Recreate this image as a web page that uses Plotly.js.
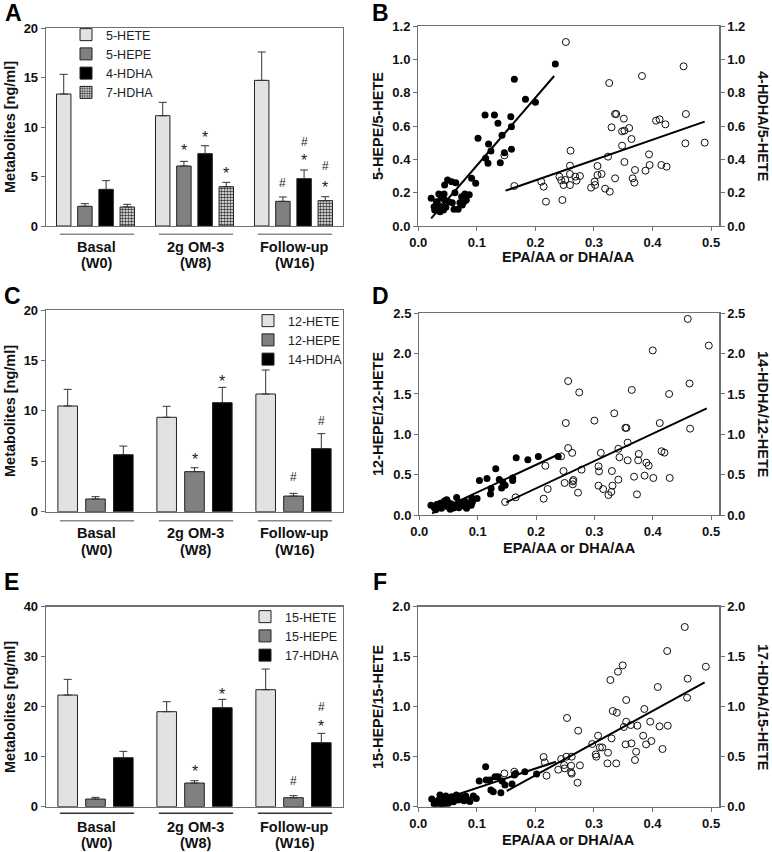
<!DOCTYPE html>
<html>
<head>
<meta charset="utf-8">
<script src="https://cdn.plot.ly/plotly-3.0.1.min.js"></script>
<style>body{margin:0;background:#fff}</style>
</head>
<body>
<div id="plotArea" style="width:772px;height:852px"></div>
<script>
var groups = ["Basal", "2g OM-3", "Follow-up"];
var weeks = ["(W0)", "(W8)", "(W16)"];
var groupIdx = [0, 1, 2];
var zeros = [0, 0, 0];

// A: 5-LOX products
var namesA = ["5-HETE", "5-HEPE", "4-HDHA", "7-HDHA"];
var hete5 = [13.33, 11.14, 14.71];
var hete5Err = [1.99, 1.35, 2.87];
var hepe5 = [1.99, 6.06, 2.49];
var hepe5Err = [0.27, 0.47, 0.44];
var hdha4 = [3.70, 7.31, 4.78];
var hdha4Err = [0.88, 0.80, 0.88];
var hdha7 = [1.92, 3.97, 2.56];
var hdha7Err = [0.27, 0.44, 0.40];
// [group, bar, label, y]
var marksA = [[1, 1, "*", 8.0], [1, 2, "*", 9.3], [1, 3, "*", 5.7],
              [2, 1, "#", 4.3], [2, 2, "#", 8.5], [2, 2, "*", 7.0],
              [2, 3, "#", 6.1], [2, 3, "*", 4.3]];

// C: 12-LOX products
var namesC = ["12-HETE", "12-HEPE", "14-HDHA"];
var hete12 = [10.48, 9.36, 11.67];
var hete12Err = [1.65, 1.09, 2.38];
var hepe12 = [1.26, 3.97, 1.55];
var hepe12Err = [0.23, 0.39, 0.27];
var hdha14 = [5.65, 10.81, 6.25];
var hdha14Err = [0.86, 1.52, 1.49];
var marksC = [[1, 1, "*", 5.6], [1, 2, "*", 13.3], [2, 1, "#", 3.4], [2, 2, "#", 9.0]];

// E: 15-LOX products
var namesE = ["15-HETE", "15-HEPE", "17-HDHA"];
var hete15 = [22.33, 19.0, 23.4];
var hete15Err = [3.14, 2.0, 4.13];
var hepe15 = [1.53, 4.73, 1.8];
var hepe15Err = [0.34, 0.47, 0.4];
var hdha17 = [9.8, 19.8, 12.8];
var hdha17Err = [1.27, 1.67, 1.87];
var marksE = [[1, 1, "*", 7.9], [1, 2, "*", 23.3], [2, 1, "#", 5.2], [2, 2, "#", 19.9], [2, 2, "*", 16.9]];

// B: ratios vs EPA/AA (filled) and DHA/AA (open)
var epaB = [0.022,0.234,0.164,0.183,0.200,0.114,0.130,0.136,0.158,0.159,0.143,0.102,0.120,0.124,0.147,0.159,0.115,0.119,0.140,0.091,0.098,0.050,0.057,0.064,0.045,0.0625,0.0795,0.087,0.035,0.044,0.039,0.045,0.052,0.074,0.082,0.078,0.058,0.071,0.031,0.027,0.034,0.040,0.047,0.028,0.037,0.043,0.061,0.068,0.075,0.031];
var hepeRatioB = [0.166,0.972,0.880,0.760,0.742,0.666,0.666,0.616,0.656,0.596,0.544,0.526,0.492,0.450,0.440,0.460,0.406,0.376,0.380,0.286,0.256,0.276,0.266,0.260,0.246,0.200,0.192,0.188,0.192,0.192,0.166,0.156,0.146,0.176,0.156,0.146,0.140,0.140,0.146,0.116,0.126,0.116,0.112,0.096,0.086,0.096,0.100,0.100,0.126,0.106];
var dhaB = [0.252,0.326,0.382,0.453,0.336,0.338,0.351,0.330,0.348,0.352,0.360,0.364,0.348,0.352,0.324,0.406,0.412,0.422,0.457,0.456,0.489,0.394,0.395,0.388,0.415,0.424,0.370,0.366,0.369,0.336,0.306,0.306,0.313,0.301,0.302,0.295,0.319,0.327,0.260,0.259,0.259,0.259,0.268,0.270,0.276,0.241,0.244,0.248,0.251,0.210,0.214,0.218,0.246,0.164,0.147];
var hdhaRatioB = [1.104,0.858,0.900,0.958,0.672,0.672,0.644,0.592,0.568,0.572,0.588,0.522,0.482,0.384,0.416,0.632,0.640,0.610,0.672,0.496,0.500,0.430,0.366,0.332,0.366,0.356,0.336,0.286,0.260,0.286,0.360,0.306,0.312,0.266,0.246,0.230,0.224,0.206,0.452,0.362,0.312,0.246,0.296,0.272,0.300,0.296,0.274,0.246,0.276,0.266,0.236,0.146,0.156,0.240,0.424];
var fitEpaBx = [0.022, 0.232];
var fitEpaBy = [0.046, 0.900];
var fitDhaBx = [0.149, 0.489];
var fitDhaBy = [0.212, 0.626];

// D
var epaD = [0.020,0.026,0.030,0.034,0.038,0.043,0.045,0.049,0.050,0.055,0.056,0.060,0.064,0.064,0.068,0.072,0.076,0.079,0.081,0.084,0.089,0.038,0.036,0.028,0.099,0.103,0.116,0.123,0.122,0.131,0.137,0.141,0.147,0.143,0.160,0.160,0.166,0.186,0.204,0.238,0.091,0.090,0.047,0.070,0.053,0.034,0.080];
var hepeRatioD = [0.120,0.087,0.129,0.095,0.137,0.174,0.129,0.100,0.154,0.137,0.083,0.091,0.216,0.129,0.091,0.158,0.129,0.166,0.083,0.137,0.120,0.083,0.145,0.066,0.203,0.427,0.452,0.328,0.261,0.573,0.440,0.336,0.369,0.410,0.427,0.460,0.710,0.685,0.726,0.726,0.162,0.210,0.190,0.110,0.070,0.110,0.100];
var dhaD = [0.460,0.496,0.400,0.255,0.274,0.364,0.463,0.428,0.334,0.300,0.251,0.412,0.353,0.355,0.464,0.357,0.255,0.262,0.311,0.341,0.376,0.375,0.357,0.343,0.415,0.420,0.389,0.393,0.243,0.216,0.247,0.278,0.307,0.308,0.330,0.249,0.264,0.263,0.263,0.307,0.315,0.331,0.329,0.324,0.341,0.272,0.220,0.213,0.165,0.147,0.368,0.386,0.401,0.429,0.373];
var hdhaRatioD = [2.43,2.10,2.04,1.66,1.52,1.55,1.63,1.50,1.26,1.17,1.14,1.14,1.08,1.08,1.07,0.897,0.83,0.77,0.77,0.82,0.756,0.678,0.678,0.715,0.79,0.773,0.649,0.612,0.727,0.61,0.545,0.562,0.603,0.541,0.545,0.397,0.434,0.417,0.38,0.364,0.322,0.364,0.285,0.248,0.438,0.277,0.322,0.202,0.219,0.161,0.475,0.488,0.459,0.459,0.256];
var fitEpaDx = [0.022, 0.238];
var fitEpaDy = [0.02, 0.75];
var fitDhaDx = [0.149, 0.4925];
var fitDhaDy = [0.157, 1.322];

// F
var epaF = [0.023,0.027,0.031,0.035,0.037,0.040,0.044,0.047,0.048,0.051,0.057,0.060,0.0625,0.065,0.068,0.074,0.078,0.081,0.084,0.088,0.094,0.099,0.051,0.033,0.043,0.115,0.104,0.116,0.122,0.131,0.136,0.143,0.124,0.128,0.141,0.148,0.160,0.164,0.166,0.182,0.202];
var hepeRatioF = [0.077,0.027,0.053,0.067,0.117,0.033,0.080,0.107,0.050,0.073,0.100,0.050,0.073,0.117,0.067,0.093,0.060,0.107,0.073,0.053,0.107,0.083,0.033,0.017,0.017,0.400,0.257,0.267,0.267,0.300,0.300,0.257,0.167,0.150,0.140,0.217,0.227,0.317,0.333,0.350,0.327];
var dhaF = [0.455,0.425,0.491,0.349,0.341,0.328,0.460,0.409,0.459,0.355,0.386,0.332,0.339,0.254,0.396,0.355,0.363,0.374,0.412,0.426,0.351,0.273,0.307,0.330,0.384,0.398,0.297,0.364,0.354,0.389,0.310,0.314,0.324,0.303,0.304,0.417,0.372,0.370,0.323,0.338,0.214,0.216,0.219,0.244,0.253,0.262,0.249,0.261,0.276,0.239,0.250,0.261,0.262,0.272,0.164,0.147];
var hdhaRatioF = [1.797,1.557,1.400,1.413,1.350,1.267,1.280,1.197,1.090,1.067,0.977,0.957,0.940,0.887,0.850,0.850,0.817,0.810,0.803,0.810,0.797,0.760,0.710,0.683,0.710,0.657,0.627,0.633,0.623,0.623,0.593,0.593,0.540,0.523,0.500,0.577,0.550,0.467,0.433,0.433,0.497,0.443,0.310,0.477,0.500,0.500,0.417,0.410,0.413,0.370,0.383,0.343,0.330,0.240,0.350,0.333];
var fitEpaFx = [0.05, 0.235];
var fitEpaFy = [0.09, 0.45];
var fitDhaFx = [0.151, 0.489];
var fitDhaFy = [0.157, 1.243];

var W = 772, H = 852;
function px(x) { return x / W; }
function py(y) { return 1 - y / H; }

var fam = "Arial, Liberation Sans, sans-serif";
var axisLine = "#707070";
var tickFont = {family: fam, size: 13, color: "#111", weight: "bold"};
var titleFont = {family: fam, size: 14.5, color: "#111", weight: "bold"};
var legendFont = {family: fam, size: 12.5, color: "#222"};
var barFill = ["#e2e2e2", "#808080", "#000000", "#ffffff"];

var data = [];
var annotations = [];
var shapes = [];

function addBars(names, values, errors, xa, ya, legend, slot, width) {
    var n = names.length;
    for (var i = 0; i < n; i++) {
        var marker = {color: barFill[i], line: {color: "#222", width: 1}};
        if (i == 3) {
            marker.pattern = {shape: ".", fgcolor: "#3a3a3a", bgcolor: "#ffffff", size: 3, solidity: 0.55};
        }
        data.push({
            x: groupIdx, y: values[i], type: "bar", name: names[i],
            xaxis: xa, yaxis: ya, legend: legend,
            width: width, offset: (i - (n - 1) / 2) * slot - width / 2,
            marker: marker,
            error_y: {type: "data", array: errors[i], arrayminus: zeros, symmetric: false,
                      color: "#333", thickness: 1, width: 4},
            hoverinfo: "skip"
        });
    }
}

function addMarks(marks, n, slot, xa, ya) {
    marks.forEach(function(m) {
        var star = m[2] == "*";
        annotations.push({
            xref: xa, yref: ya, x: m[0] + (m[1] - (n - 1) / 2) * slot, y: m[3],
            xanchor: "center", yanchor: "middle",
            text: m[2], showarrow: false, yshift: star ? -4 : 0,
            font: {family: fam, size: star ? 16 : 12, color: "#222"}
        });
    });
}

function addCategories(xa, yLine, yText1, yText2, lineColor) {
    for (var g = 0; g < 3; g++) {
        shapes.push({type: "line", xref: xa, yref: "paper", x0: g - 0.36, x1: g + 0.39,
                     y0: py(yLine), y1: py(yLine), line: {color: lineColor, width: 1.5}});
        annotations.push({xref: xa, yref: "paper", x: g + 0.015, y: py(yText1), text: groups[g],
                          xanchor: "center", yanchor: "middle", showarrow: false, font: titleFont});
        annotations.push({xref: xa, yref: "paper", x: g + 0.015, y: py(yText2), text: weeks[g],
                          xanchor: "center", yanchor: "middle", showarrow: false, font: titleFont});
    }
}

function addScatter(ex, ey, dx, dy, fx1, fy1, fx2, fy2, xa, ya, yr) {
    data.push({x: dx, y: dy, type: "scatter", mode: "markers", xaxis: xa, yaxis: yr, showlegend: false,
               marker: {symbol: "circle-open", size: 7, color: "#111", line: {width: 1}}, hoverinfo: "skip"});
    data.push({x: ex, y: ey, type: "scatter", mode: "markers", xaxis: xa, yaxis: ya, showlegend: false,
               marker: {size: 7, color: "#000"}, hoverinfo: "skip"});
    data.push({x: fx1, y: fy1, type: "scatter", mode: "lines", xaxis: xa, yaxis: ya, showlegend: false,
               line: {color: "#000", width: 2}, hoverinfo: "skip"});
    data.push({x: fx2, y: fy2, type: "scatter", mode: "lines", xaxis: xa, yaxis: yr, showlegend: false,
               line: {color: "#000", width: 2}, hoverinfo: "skip"});
}

function paperText(text, x, y, angle, font) {
    annotations.push({xref: "paper", yref: "paper", x: px(x), y: py(y), text: text, textangle: angle,
                      xanchor: "center", yanchor: "middle", showarrow: false, font: font});
}
function ytitle(text, x, y) { paperText(text, x, y, -90, titleFont); }
function ytitleRight(text, x, y) { paperText(text, x, y, 90, titleFont); }
function xtitle(text, x, y) { paperText(text, x, y, 0, titleFont); }
function letter(text, x, y) {
    paperText(text, x, y, 0, {family: fam, size: 23, color: "#000", weight: "bold"});
}

var slot4 = 0.214, width4 = 0.146;
var slot3 = 0.281, width3 = 0.198;

addBars(namesA, [hete5, hepe5, hdha4, hdha7], [hete5Err, hepe5Err, hdha4Err, hdha7Err], "x", "y", "legend", slot4, width4);
addBars(namesC, [hete12, hepe12, hdha14], [hete12Err, hepe12Err, hdha14Err], "x3", "y3", "legend2", slot3, width3);
addBars(namesE, [hete15, hepe15, hdha17], [hete15Err, hepe15Err, hdha17Err], "x5", "y5", "legend3", slot3, width3);
addMarks(marksA, 4, slot4, "x", "y");
addMarks(marksC, 3, slot3, "x3", "y3");
addMarks(marksE, 3, slot3, "x5", "y5");
addCategories("x", 234.3, 246.7, 263.3, "#8a8a8a");
addCategories("x3", 520.7, 533, 549.5, "#8a8a8a");
addCategories("x5", 813.3, 826.7, 842.5, "#333");

addScatter(epaB, hepeRatioB, dhaB, hdhaRatioB, fitEpaBx, fitEpaBy, fitDhaBx, fitDhaBy, "x2", "y2", "y7");
addScatter(epaD, hepeRatioD, dhaD, hdhaRatioD, fitEpaDx, fitEpaDy, fitDhaDx, fitDhaDy, "x4", "y4", "y8");
addScatter(epaF, hepeRatioF, dhaF, hdhaRatioF, fitEpaFx, fitEpaFy, fitDhaFx, fitDhaFy, "x6", "y6", "y9");

ytitle("Metabolites [ng/ml]", 10, 127);
ytitle("Metabolites [ng/ml]", 10, 411);
ytitle("Metabolites [ng/ml]", 10, 707);
ytitle("5-HEPE/5-HETE", 378, 126);
ytitleRight("4-HDHA/5-HETE", 763, 126);
ytitle("12-HEPE/12-HETE", 378, 414);
ytitleRight("14-HDHA/12-HETE", 763, 414);
ytitle("15-HEPE/15-HETE", 378, 707);
ytitleRight("17-HDHA/15-HETE", 763, 707);
xtitle("EPA/AA or DHA/AA", 568, 257);
xtitle("EPA/AA or DHA/AA", 569, 548);
xtitle("EPA/AA or DHA/AA", 568, 840);
letter("A", 13, 13);
letter("B", 380, 13);
letter("C", 12, 296);
letter("D", 380, 296);
letter("E", 11, 582);
letter("F", 380, 582);

function barX(x0, x1, anchor) {
    return {domain: [px(x0), px(x1)], anchor: anchor, range: [-0.5, 2.5], showline: true, mirror: true,
            linecolor: axisLine, linewidth: 1.3, showticklabels: false, ticks: "", showgrid: false,
            zeroline: false, fixedrange: true};
}
function valY(y0, y1, anchor, range, dtick, fmt) {
    return {domain: [py(y1), py(y0)], anchor: anchor, range: range, dtick: dtick, tickformat: fmt,
            showline: true, mirror: true, linecolor: axisLine, linewidth: 1.3, ticks: "outside", ticklen: 4,
            tickcolor: axisLine, tickfont: tickFont, showgrid: false, zeroline: false, fixedrange: true};
}
function ratioX(x0, x1, anchor) {
    return {domain: [px(x0), px(x1)], anchor: anchor, range: [0, 0.514], dtick: 0.1, tickformat: ".1f",
            showline: true, mirror: true, linecolor: axisLine, linewidth: 1.3, ticks: "outside", ticklen: 4,
            tickcolor: axisLine, tickfont: tickFont, showgrid: false, zeroline: false, fixedrange: true};
}
function rightY(over, anchor, range, dtick) {
    return {overlaying: over, anchor: anchor, side: "right", range: range, dtick: dtick, tickformat: ".1f",
            showline: true, linecolor: axisLine, linewidth: 1.3, ticks: "outside", ticklen: 4,
            tickcolor: axisLine, tickfont: tickFont, showgrid: false, zeroline: false, fixedrange: true};
}
function legendAt(x, y) {
    return {x: px(x), y: py(y), xanchor: "left", yanchor: "top", font: legendFont, bgcolor: "rgba(0,0,0,0)"};
}

var layout = {
    width: W, height: H,
    margin: {l: 0, r: 0, t: 0, b: 0},
    paper_bgcolor: "#fff", plot_bgcolor: "#fff",
    barmode: "overlay",
    hovermode: false,
    xaxis: barX(46, 343, "y"),
    yaxis: valY(28, 226, "x", [0, 20], 5, ""),
    xaxis2: ratioX(418.3, 719.3, "y2"),
    yaxis2: valY(26, 226, "x2", [0, 1.2], 0.2, ".1f"),
    xaxis3: barX(46, 343, "y3"),
    yaxis3: valY(310, 511.7, "x3", [0, 20], 5, ""),
    xaxis4: ratioX(419.3, 719.3, "y4"),
    yaxis4: valY(313.3, 515, "x4", [0, 2.5], 0.5, ".1f"),
    xaxis5: barX(46, 343, "y5"),
    yaxis5: valY(606.7, 806.7, "x5", [0, 40], 10, ""),
    xaxis6: ratioX(418.3, 719.3, "y6"),
    yaxis6: valY(606.7, 806.7, "x6", [0, 2.0], 0.5, ".1f"),
    yaxis7: rightY("y2", "x2", [0, 1.2], 0.2),
    yaxis8: rightY("y4", "x4", [0, 2.5], 0.5),
    yaxis9: rightY("y6", "x6", [0, 2.0], 0.5),
    legend: legendAt(66, 20),
    legend2: legendAt(248, 306),
    legend3: legendAt(245, 602),
    annotations: annotations,
    shapes: shapes
};

Plotly.newPlot("plotArea", data, layout, {staticPlot: true});
</script>
</body>
</html>
